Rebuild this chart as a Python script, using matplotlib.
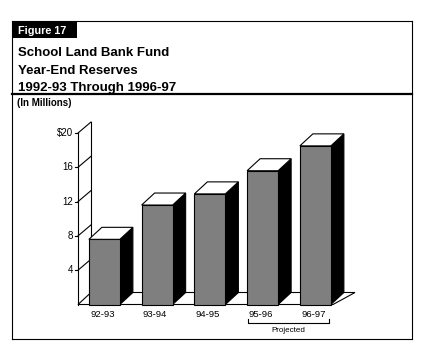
import matplotlib
matplotlib.use("Agg")
import matplotlib.pyplot as plt
from matplotlib.patches import Polygon, Rectangle
from matplotlib.lines import Line2D

plt.rcParams['font.family'] = ['Liberation Sans', 'DejaVu Sans']

# ---- data ----
categories = ["92-93", "93-94", "94-95", "95-96", "96-97"]
values = [7.6, 11.6, 12.9, 15.6, 18.5]
yticks = [4, 8, 12, 16, 20]
ytick_labels = ["4", "8", "12", "16", "$20"]
figure_label = "Figure 17"
title_lines = ["School Land Bank Fund", "Year-End Reserves", "1992-93 Through 1996-97"]
units_label = "(In Millions)"
projected_label = "Projected"
projected_from, projected_to = 3, 4

W, H = 429, 355
fig = plt.figure(figsize=(W / 100, H / 100), dpi=100)

# overlay axes in pixel coordinates for frame / titles
ov = fig.add_axes([0, 0, 1, 1])
ov.set_xlim(0, W)
ov.set_ylim(H, 0)
ov.axis('off')

lw = 0.8
# frame
ov.add_line(Line2D([12, 412], [21, 21], color='black', lw=lw))
ov.add_line(Line2D([412, 412], [21, 339], color='black', lw=lw))
ov.add_line(Line2D([12, 412], [339, 339], color='black', lw=lw))
ov.add_line(Line2D([12, 12], [21, 339], color='black', lw=lw))
ov.add_line(Line2D([12, 412], [94, 94], color='black', lw=1.6))
ov.add_patch(Rectangle((12, 21), 65, 17, facecolor='black', edgecolor='none'))
ov.text(18, 34.5, figure_label, color='white', fontsize=7.8, fontweight='bold',
        va='baseline', ha='left')
for i, line in enumerate(title_lines):
    ov.text(18.5, 56.5 + i * 17, line, color='black', fontsize=9.5, fontweight='bold',
            va='baseline', ha='left')
ov.text(17, 106, units_label, color='black', fontsize=7, fontweight='bold',
        va='baseline', ha='left')

# ---- chart axes ----
x_left_px, x_right_px = 78, 78 + 5 * 52.75
y0_px, y20_px = 304.5, 133
ax = fig.add_axes([x_left_px / W, (H - y0_px) / H,
                   (x_right_px - x_left_px) / W, (y0_px - y20_px) / H])
ax.set_xlim(-0.5, 4.5)
ax.set_ylim(0, 20)
ax.axis('off')

px_x = 1 / 52.75
px_y = 20 / (y0_px - y20_px)
dx = 13 * px_x
dy = 12 * px_y
dyw = 11 * px_y
bw = 31 * px_x

# back wall
x0 = -0.5
ax.add_line(Line2D([x0 + dx, x0 + dx], [dy, 20 + dyw], color='black', lw=lw, clip_on=False, zorder=1))
for t in yticks:
    ax.add_line(Line2D([x0, x0 + dx], [t, t + dyw], color='black', lw=lw, clip_on=False, zorder=1))

# floor
floor_right_front = 4.5 - 8.75 * px_x
floor = Polygon([[x0, 0], [floor_right_front, 0],
                 [floor_right_front + 22 * px_x, dy], [x0 + dx, dy]],
                closed=True, facecolor='white', edgecolor='black', lw=lw,
                clip_on=False, zorder=2)
ax.add_patch(floor)

# front axis
ax.add_line(Line2D([x0, x0], [0, 20], color='black', lw=lw, clip_on=False, zorder=3))
for t, lab in zip(yticks, ytick_labels):
    ax.add_line(Line2D([x0 - 3 * px_x, x0], [t, t], color='black', lw=lw, clip_on=False, zorder=3))
    ax.text(x0 - 5 * px_x, t, lab, ha='right', va='center', fontsize=7, clip_on=False)

# bars
xs = list(range(len(categories)))
bars = ax.bar(xs, values, width=bw, color='#7f7f7f', edgecolor='black', lw=lw,
              zorder=5, clip_on=False)
for x, v in zip(xs, values):
    xl, xr = x - bw / 2, x + bw / 2
    side = Polygon([[xr, 0], [xr + dx, dy], [xr + dx, v + dy], [xr, v]], closed=True,
                   facecolor='black', edgecolor='black', lw=lw, zorder=4, clip_on=False)
    top = Polygon([[xl, v], [xr, v], [xr + dx, v + dy], [xl + dx, v + dy]], closed=True,
                  facecolor='white', edgecolor='black', lw=lw, zorder=6, clip_on=False)
    ax.add_patch(side)
    ax.add_patch(top)

# category labels
for x, c in zip(xs, categories):
    ax.text(x - 2 * px_x, -10 * px_y, c, ha='center', va='center', fontsize=6.8, clip_on=False)

# projected bracket
bx0 = projected_from - 15 * px_x
bx1 = projected_to + 14 * px_x
by = -18.5 * px_y
ax.add_line(Line2D([bx0, bx0, bx1, bx1], [by + 4 * px_y, by, by, by + 4 * px_y],
                   color='black', lw=lw, clip_on=False))
ax.text((bx0 + bx1) / 2, by - 8 * px_y, projected_label, ha='center', va='center',
        fontsize=5.8, clip_on=False)

fig.savefig("out.png", dpi=100)
